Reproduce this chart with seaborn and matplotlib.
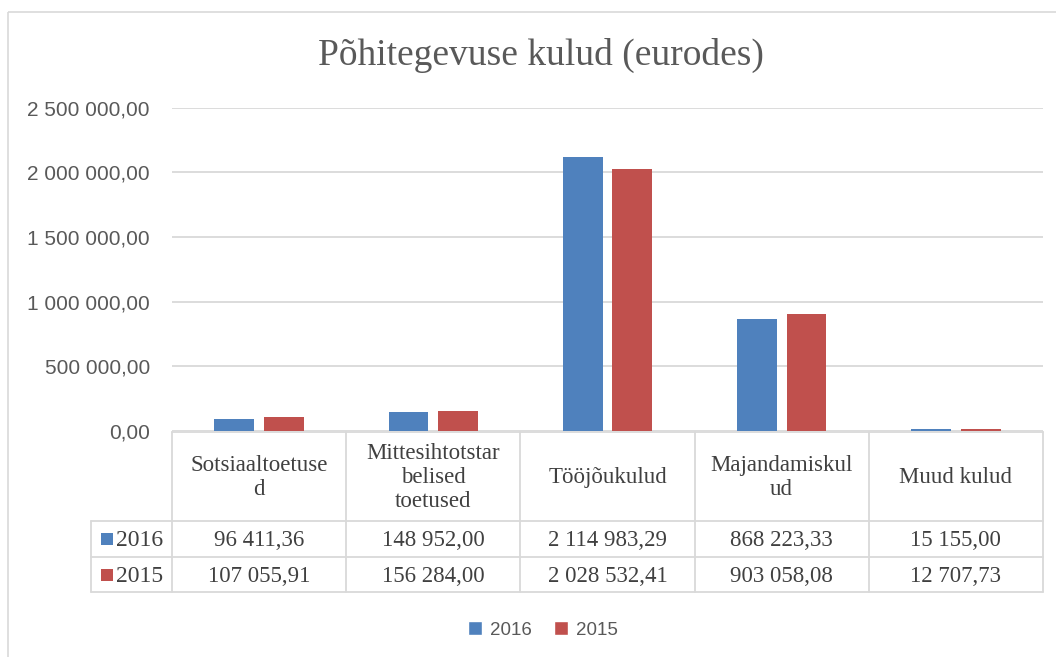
import pandas as pd
import matplotlib.pyplot as plt
import seaborn as sns
from matplotlib.patches import Rectangle, Patch
from matplotlib.lines import Line2D
import matplotlib.ticker as ticker

# Andmed
kategooriad = ["Sotsiaaltoetused", "Mittesihtotstarbelised toetused", "Tööjõukulud",
               "Majandamiskulud", "Muud kulud"]
tabeli_pealkirjad = ["Sotsiaaltoetuse\nd", "Mittesihtotstar\nbelised\ntoetused", "Tööjõukulud",
                     "Majandamiskul\nud", "Muud kulud"]
aastad = ["2016", "2015"]
kulud_2016 = [96411.36, 148952.00, 2114983.29, 868223.33, 15155.00]
kulud_2015 = [107055.91, 156284.00, 2028532.41, 903058.08, 12707.73]
y_ticks = [0, 500000, 1000000, 1500000, 2000000, 2500000]

colors = {"2016": "#4F81BD", "2015": "#C0504D"}
grid_col = "#d9d9d9"
text_col = "#595959"

df = pd.DataFrame({
    "kategooria": kategooriad * 2,
    "aasta": ["2016"] * len(kategooriad) + ["2015"] * len(kategooriad),
    "summa": kulud_2016 + kulud_2015,
})


def fmt(v):
    return f"{v:,.2f}".replace(",", " ").replace(".", ",")


sns.set_style("white")
W, H = 1056, 657
fig = plt.figure(figsize=(W / 100, H / 100), dpi=100)

# plot area (pixel layout)
ax = fig.add_axes([172 / W, 1 - 431 / H, 871 / W, 323.4 / H])
sns.barplot(data=df, x="kategooria", y="summa", hue="aasta", hue_order=aastad,
            palette=colors, width=0.57, gap=0.2, ax=ax, legend=False,
            saturation=1, linewidth=0)
ax.set_xlim(-0.5, len(kategooriad) - 0.5)
ax.set_ylim(0, 2500000)
ax.set_yticks(y_ticks)
ax.yaxis.set_major_formatter(ticker.FuncFormatter(lambda v, p: fmt(v)))
ax.yaxis.grid(True, color=grid_col, linewidth=1.3)
ax.set_axisbelow(True)
ax.set_xticks([])
ax.set_xlabel("")
ax.set_ylabel("")
for s in ax.spines.values():
    s.set_visible(False)
ax.tick_params(axis="y", length=0, pad=16, labelsize=15, labelcolor=text_col)
for lab in ax.get_yticklabels():
    lab.set_family("Liberation Sans")

# overlay in pixel coordinates for table, frame
ov = fig.add_axes([0, 0, 1, 1], zorder=-1)
ov.set_xlim(0, W)
ov.set_ylim(H, 0)
ov.axis("off")

ov.add_patch(Rectangle((8, 12), W + 20, H + 20, fill=False, edgecolor=grid_col, lw=1.2))

# column edges from category axis
edges = [ax.transData.transform((i - 0.5, 0))[0] for i in range(len(kategooriad) + 1)]
row_y = [432, 521, 557, 592]
label_left = 91
serif = "Liberation Serif"
tcol = "#404040"

lw = 1.3
ov.add_line(Line2D([edges[0], edges[-1]], [row_y[0], row_y[0]], color=grid_col, lw=lw))
for y in row_y[1:]:
    ov.add_line(Line2D([label_left, edges[-1]], [y, y], color=grid_col, lw=lw))
for x in edges:
    ov.add_line(Line2D([x, x], [row_y[0], row_y[-1]], color=grid_col, lw=lw))
ov.add_line(Line2D([label_left, label_left], [row_y[1], row_y[-1]], color=grid_col, lw=lw))

for i, lab in enumerate(tabeli_pealkirjad):
    cx = (edges[i] + edges[i + 1]) / 2
    ov.text(cx, (row_y[0] + row_y[1]) / 2 + 1, lab, ha="center", va="center",
            family=serif, fontsize=16.5, color=tcol, linespacing=1.2)

for r, (aasta, vals) in enumerate(zip(aastad, [kulud_2016, kulud_2015])):
    cy = (row_y[r + 1] + row_y[r + 2]) / 2 + 2
    ov.add_patch(Rectangle((label_left + 10, cy - 8), 12, 12, color=colors[aasta], lw=0))
    ov.text(label_left + 25, cy, aasta, ha="left", va="center", family=serif,
            fontsize=17, color=tcol)
    for i, v in enumerate(vals):
        cx = (edges[i] + edges[i + 1]) / 2
        ov.text(cx, cy, fmt(v), ha="center", va="center", family=serif,
                fontsize=16.5, color=tcol)

fig.text(541 / W, 1 - 55 / H, "Põhitegevuse kulud (eurodes)", ha="center", va="center",
         family=serif, fontsize=27, color=text_col)

handles = [Patch(facecolor=colors[a], label=a) for a in aastad]
leg = fig.legend(handles=handles, loc="center", bbox_to_anchor=(543 / W, 1 - 630 / H),
                 ncol=2, frameon=False, handlelength=0.75, handleheight=0.75,
                 handletextpad=0.4, columnspacing=1.2,
                 prop={"family": "Liberation Sans", "size": 13.5})
for t in leg.get_texts():
    t.set_color(text_col)

fig.savefig("out.png", dpi=100)
